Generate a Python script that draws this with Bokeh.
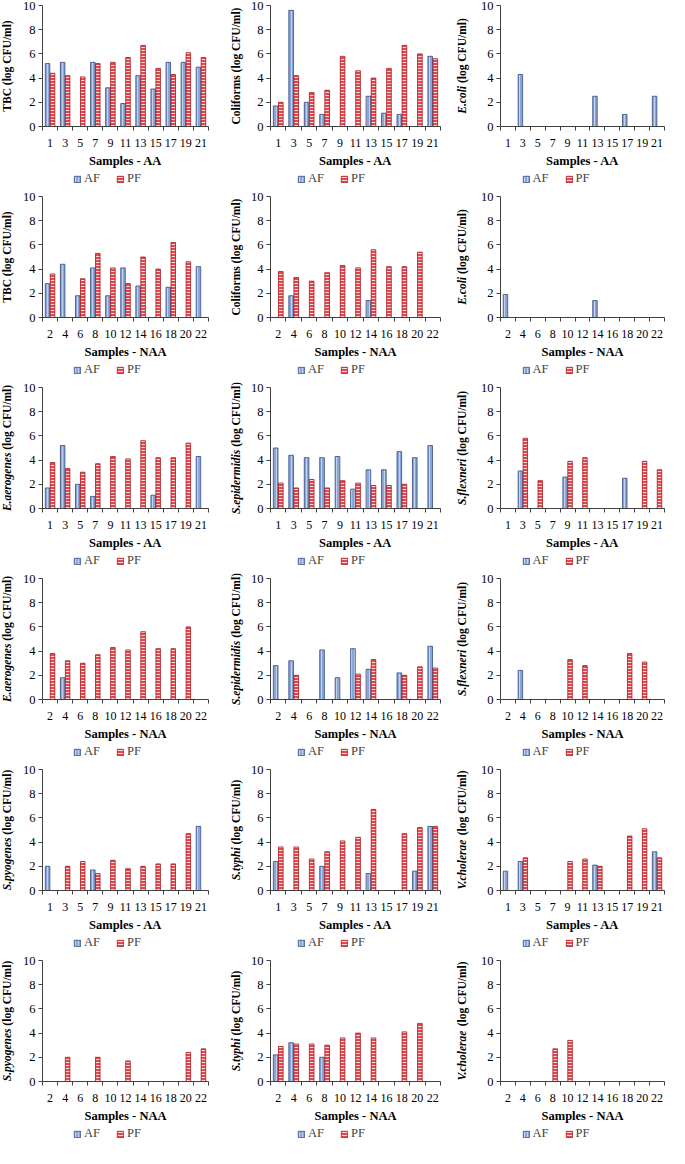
import numpy as np
from bokeh.plotting import figure
from bokeh.layouts import column, row
from bokeh.models import Range1d, FixedTicker, Label, Legend, LegendItem, ColumnDataSource
from bokeh.transform import dodge
from bokeh.embed import file_html
from bokeh.resources import INLINE

# ---------------- data ----------------
samples_aa = ["1", "3", "5", "7", "9", "11", "13", "15", "17", "19", "21"]
samples_naa = ["2", "4", "6", "8", "10", "12", "14", "16", "18", "20", "22"]

tbc_aa_af = [5.2, 5.3, 0, 5.3, 3.2, 1.9, 4.2, 3.1, 5.3, 5.3, 4.9]
tbc_aa_pf = [4.4, 4.2, 4.1, 5.2, 5.3, 5.7, 6.7, 4.8, 4.3, 6.1, 5.7]
coli_aa_af = [1.7, 9.6, 2.0, 1.0, 0, 0, 2.5, 1.1, 1.0, 0, 5.8]
coli_aa_pf = [2.0, 4.2, 2.8, 3.0, 5.8, 4.6, 4.0, 4.8, 6.7, 6.0, 5.6]
ecoli_aa_af = [0, 4.3, 0, 0, 0, 0, 2.5, 0, 1.0, 0, 2.5]
ecoli_aa_pf = [0, 0, 0, 0, 0, 0, 0, 0, 0, 0, 0]

tbc_naa_af = [2.8, 4.4, 1.8, 4.1, 1.8, 4.1, 2.6, 0, 2.5, 0, 4.2]
tbc_naa_pf = [3.6, 0, 3.2, 5.3, 4.1, 2.8, 5.0, 4.0, 6.2, 4.6, 0]
coli_naa_af = [0, 1.8, 0, 0, 0, 0, 1.4, 0, 0, 0, 0]
coli_naa_pf = [3.8, 3.3, 3.0, 3.7, 4.3, 4.1, 5.6, 4.2, 4.2, 5.4, 0]
ecoli_naa_af = [1.9, 0, 0, 0, 0, 0, 1.4, 0, 0, 0, 0]
ecoli_naa_pf = [0, 0, 0, 0, 0, 0, 0, 0, 0, 0, 0]

aer_aa_af = [1.7, 5.2, 2.0, 1.0, 0, 0, 0, 1.1, 0, 0, 4.3]
aer_aa_pf = [3.8, 3.3, 3.0, 3.7, 4.3, 4.1, 5.6, 4.2, 4.2, 5.4, 0]
epi_aa_af = [5.0, 4.4, 4.2, 4.2, 4.3, 1.6, 3.2, 3.2, 4.7, 4.2, 5.2]
epi_aa_pf = [2.1, 1.7, 2.4, 1.7, 2.3, 2.1, 1.9, 1.9, 2.0, 0, 0]
flex_aa_af = [0, 3.1, 0, 0, 2.6, 0, 0, 0, 2.5, 0, 0]
flex_aa_pf = [0, 5.8, 2.3, 0, 3.9, 4.2, 0, 0, 0, 3.9, 3.2]

aer_naa_af = [0, 1.8, 0, 0, 0, 0, 0, 0, 0, 0, 0]
aer_naa_pf = [3.8, 3.2, 3.0, 3.7, 4.3, 4.1, 5.6, 4.2, 4.2, 6.0, 0]
epi_naa_af = [2.8, 3.2, 0, 4.1, 1.8, 4.2, 2.5, 0, 2.2, 0, 4.4]
epi_naa_pf = [0, 2.0, 0, 0, 0, 2.1, 3.3, 0, 2.0, 2.7, 2.6]
flex_naa_af = [0, 2.4, 0, 0, 0, 0, 0, 0, 0, 0, 0]
flex_naa_pf = [0, 0, 0, 0, 3.3, 2.8, 0, 0, 3.8, 3.1, 0]

pyo_aa_af = [2.0, 0, 0, 1.7, 0, 0, 0, 0, 0, 0, 5.3]
pyo_aa_pf = [0, 2.0, 2.4, 1.4, 2.5, 1.8, 2.0, 2.2, 2.2, 4.7, 0]
typ_aa_af = [2.4, 0, 0, 2.0, 0, 0, 1.4, 0, 0, 1.6, 5.3]
typ_aa_pf = [3.6, 3.6, 2.6, 3.2, 4.1, 4.4, 6.7, 0, 4.7, 5.2, 5.3]
cho_aa_af = [1.6, 2.4, 0, 0, 0, 0, 2.1, 0, 0, 0, 3.2]
cho_aa_pf = [0, 2.7, 0, 0, 2.4, 2.6, 2.0, 0, 4.5, 5.1, 2.7]

pyo_naa_af = [0, 0, 0, 0, 0, 0, 0, 0, 0, 0, 0]
pyo_naa_pf = [0, 2.0, 0, 2.0, 0, 1.7, 0, 0, 0, 2.4, 2.7]
typ_naa_af = [2.2, 3.2, 0, 2.0, 0, 0, 0, 0, 0, 0, 0]
typ_naa_pf = [2.9, 3.1, 3.1, 3.0, 3.6, 4.0, 3.6, 0, 4.1, 4.8, 0]
cho_naa_af = [0, 0, 0, 0, 0, 0, 0, 0, 0, 0, 0]
cho_naa_pf = [0, 0, 0, 2.7, 3.4, 0, 0, 0, 0, 0, 0]

series_names = ["AF", "PF"]
unit_text = "(log CFU/ml)"
y_ticks = [0, 2, 4, 6, 8, 10]

panels = [
    (samples_aa, tbc_aa_af, tbc_aa_pf, "", "TBC", "Samples - AA"),
    (samples_aa, coli_aa_af, coli_aa_pf, "", "Coliforms", "Samples - AA"),
    (samples_aa, ecoli_aa_af, ecoli_aa_pf, "E.coli", "", "Samples - AA"),
    (samples_naa, tbc_naa_af, tbc_naa_pf, "", "TBC", "Samples - NAA"),
    (samples_naa, coli_naa_af, coli_naa_pf, "", "Coliforms", "Samples - NAA"),
    (samples_naa, ecoli_naa_af, ecoli_naa_pf, "E.coli", "", "Samples - NAA"),
    (samples_aa, aer_aa_af, aer_aa_pf, "E.aerogenes", "", "Samples - AA"),
    (samples_aa, epi_aa_af, epi_aa_pf, "S.epidermidis", "", "Samples - AA"),
    (samples_aa, flex_aa_af, flex_aa_pf, "S.flexneri", "", "Samples - AA"),
    (samples_naa, aer_naa_af, aer_naa_pf, "E.aerogenes", "", "Samples - NAA"),
    (samples_naa, epi_naa_af, epi_naa_pf, "S.epidermidis", "", "Samples - NAA"),
    (samples_naa, flex_naa_af, flex_naa_pf, "S.flexneri", "", "Samples - NAA"),
    (samples_aa, pyo_aa_af, pyo_aa_pf, "S.pyogenes", "", "Samples - AA"),
    (samples_aa, typ_aa_af, typ_aa_pf, "S.typhi", "", "Samples - AA"),
    (samples_aa, cho_aa_af, cho_aa_pf, "V.cholerae", "", "Samples - AA"),
    (samples_naa, pyo_naa_af, pyo_naa_pf, "S.pyogenes", "", "Samples - NAA"),
    (samples_naa, typ_naa_af, typ_naa_pf, "S.typhi", "", "Samples - NAA"),
    (samples_naa, cho_naa_af, cho_naa_pf, "V.cholerae", "", "Samples - NAA"),
]

# ---------------- style / layout ----------------
FONT = "Liberation Serif"
AXIS_COL = "#404040"
AF_FILL, AF_LINE, AF_HATCH = "#8AA6D6", "#2E4A80", "#D2DCF0"
PF_FILL, PF_LINE, PF_HATCH = "#E2474C", "#A3191F", "#FFFFFF"

# pixel layout of each column: left pad, plot width, right pad
PAD_L = [42, 50, 52]
PLOT_W = [166, 170, 164]
PAD_R = [12, 8, 5]
YTITLE_X = [6, 15, 13]
# pixel layout of each row: top pad, plot height, bottom pad
PAD_T, PLOT_H, PAD_B = 5, 121, 65
YLAB_FS = 11.5

W_BOLD = {' ': 250, '(': 333, ')': 333, 'l': 278, 'o': 500, 'g': 500, 'C': 722, 'F': 611,
          'U': 722, '/': 278, 'm': 833, 'T': 667, 'B': 667, 'i': 278, 'f': 333, 'r': 444, 's': 389}
W_BI = {'E': 667, '.': 250, 'c': 444, 'o': 500, 'l': 278, 'i': 278, 'a': 500, 'e': 444, 'r': 389,
        'g': 500, 'n': 556, 's': 389, 'S': 556, 'p': 500, 'd': 500, 'm': 778, 'f': 333, 'x': 500,
        'y': 444, 't': 278, 'h': 556, 'V': 667}
SPACE_W = 250 * YLAB_FS / 1000.0


def tw(s, table):
    return sum(table.get(ch, 500) for ch in s) * YLAB_FS / 1000.0


def nanify(vals):
    return np.array([v if v > 0 else np.nan for v in vals], dtype=float)


def make_panel(k):
    cats, af, pf, species, measure, xlabel = panels[k]
    col = k % 3
    n = len(cats)
    idx = list(range(n))
    ymax = y_ticks[-1]
    ux = n / PLOT_W[col]
    uy = ymax / PLOT_H
    x_range = Range1d(-0.5 - PAD_L[col] * ux, n - 0.5 + PAD_R[col] * ux)
    y_range = Range1d(-PAD_B * uy, ymax + PAD_T * uy)
    W = PAD_L[col] + PLOT_W[col] + PAD_R[col]
    H = PAD_T + PLOT_H + PAD_B

    src = ColumnDataSource(dict(x=idx, af=nanify(af), pf=nanify(pf)))
    p = figure(width=W, height=H, x_range=x_range, y_range=y_range,
               output_backend="svg", toolbar_location=None,
               min_border_left=0, min_border_right=0, min_border_top=0, min_border_bottom=0,
               outline_line_color=None, background_fill_color="white",
               border_fill_color="white")
    p.xgrid.visible = False
    p.ygrid.visible = False

    r_af = p.vbar(x=dodge("x", -0.165), top="af", width=0.3, source=src,
                  fill_color=AF_FILL, line_color=AF_LINE, line_width=0.8,
                  hatch_pattern="|", hatch_color=AF_HATCH, hatch_scale=3, hatch_weight=0.8)
    r_pf = p.vbar(x=dodge("x", 0.165), top="pf", width=0.3, source=src,
                  fill_color=PF_FILL, line_color=PF_LINE, line_width=0.8,
                  hatch_pattern="-", hatch_color=PF_HATCH, hatch_scale=3, hatch_weight=0.8)

    # x axis drawn at y = 0
    xa = p.xaxis[0]
    xa.fixed_location = 0
    xa.bounds = (-0.5, n - 0.5)
    xa.ticker = FixedTicker(ticks=idx, minor_ticks=[i - 0.5 for i in range(n + 1)])
    xa.major_label_overrides = {i: c for i, c in enumerate(cats)}
    xa.major_tick_in = 0
    xa.major_tick_out = 0
    xa.minor_tick_in = 0
    xa.minor_tick_out = 4
    xa.minor_tick_line_color = AXIS_COL
    xa.axis_line_color = AXIS_COL
    xa.major_label_text_font = FONT
    xa.major_label_text_font_size = "12px"
    xa.major_label_text_color = "black"
    xa.major_label_standoff = 8
    xa.axis_label = xlabel
    xa.axis_label_text_font = FONT
    xa.axis_label_text_font_size = "12.5px"
    xa.axis_label_text_font_style = "bold"
    xa.axis_label_text_color = "black"
    xa.axis_label_standoff = 4

    # y axis drawn at the left category boundary
    ya = p.yaxis[0]
    ya.fixed_location = -0.5
    ya.bounds = (0, ymax)
    ya.ticker = FixedTicker(ticks=y_ticks)
    ya.major_tick_in = 0
    ya.major_tick_out = 4
    ya.minor_tick_line_color = None
    ya.major_tick_line_color = AXIS_COL
    ya.axis_line_color = AXIS_COL
    ya.major_label_text_font = FONT
    ya.major_label_text_font_size = "12.5px"
    ya.major_label_text_color = "black"
    ya.major_label_standoff = 3

    # y-axis title: italic species + bold unit, rotated, laid end to end
    segs = []
    if species:
        segs.append((species, "bold italic", tw(species, W_BI) + SPACE_W))
        segs.append((unit_text, "bold", tw(unit_text, W_BOLD)))
    else:
        segs.append((measure + " " + unit_text, "bold", tw(measure + " " + unit_text, W_BOLD)))
    total = sum(w for _, _, w in segs)
    off = -total / 2.0
    for s, style, w in segs:
        p.add_layout(Label(x=YTITLE_X[col], y=ymax / 2, x_units="screen", y_units="data",
                           y_offset=off, text=s, angle=np.pi / 2, text_align="left",
                           text_baseline="middle", text_font=FONT,
                           text_font_size=f"{YLAB_FS}px", text_font_style=style,
                           text_color="black"))
        off += w

    legend = Legend(items=[LegendItem(label=series_names[0], renderers=[r_af]),
                           LegendItem(label=series_names[1], renderers=[r_pf])],
                    orientation="horizontal", location="bottom_center",
                    border_line_color=None, background_fill_alpha=0,
                    label_text_font=FONT, label_text_font_size="12.5px",
                    glyph_width=8, glyph_height=8, label_standoff=3, spacing=12,
                    padding=2, margin=5, label_height=12)
    p.add_layout(legend)
    return p


figs = [make_panel(k) for k in range(len(panels))]
rows = [row(*figs[i:i + 3], spacing=0) for i in range(0, len(figs), 3)]
layout = column(*rows, spacing=0)

open("out.html", "w").write(file_html(layout, INLINE))
